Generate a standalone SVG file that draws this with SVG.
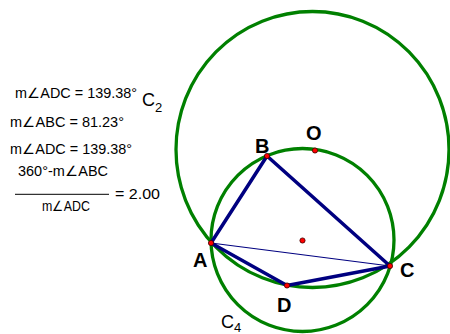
<svg xmlns="http://www.w3.org/2000/svg" width="450" height="334" viewBox="0 0 450 334">
<style>
.circ{fill:none;stroke:#008000;stroke-width:3.3}
.quad{fill:none;stroke:#000080;stroke-width:3.5;stroke-linejoin:round}
.diag{stroke:#000080;stroke-width:1.2}
.pt{fill:#ff0000;stroke:#400000;stroke-width:0.8}
.m{font-family:"Liberation Sans",Arial,sans-serif;font-size:14px;fill:#000}
.lbl{font-family:"Liberation Sans",Arial,sans-serif;font-size:20px;font-weight:bold;fill:#000}
.cl{font-family:"Liberation Sans",Arial,sans-serif;font-size:18px;fill:#000}
.sub{font-size:13px}
</style>
<rect width="450" height="334" fill="#fff"/>
<g id="circleC2"><ellipse class="circ" cx="312.5" cy="149.5" rx="136.5" ry="138"/></g>
<g id="circleC4"><circle class="circ" cx="302.5" cy="240" r="91.5"/></g>
<g id="connectors">
<polygon class="quad" points="211,243 267,156 390,266 287,285.5"/>
<line class="diag" x1="211" y1="243" x2="390" y2="266"/>
</g>
<g id="A"><circle class="pt" cx="211" cy="243" r="2.6"/><text class="lbl" x="193" y="267">A</text></g>
<g id="B"><circle class="pt" cx="267" cy="156" r="2.6"/><text class="lbl" x="255" y="153">B</text></g>
<g id="C"><circle class="pt" cx="390" cy="266" r="2.6"/><text class="lbl" x="400" y="277">C</text></g>
<g id="D"><circle class="pt" cx="287" cy="285.5" r="2.6"/><text class="lbl" x="277" y="312">D</text></g>
<g id="O"><circle class="pt" cx="315" cy="150.5" r="2.6"/><text class="lbl" x="306" y="140">O</text></g>
<g id="center"><circle class="pt" cx="302.5" cy="240.5" r="2.6"/></g>
<g id="labelC2"><text class="cl" x="142" y="106">C<tspan class="sub" dy="5.5">2</tspan></text></g>
<g id="labelC4"><text class="cl" x="221" y="328">C<tspan class="sub" dy="4">4</tspan></text></g>
<g id="measures">
<text class="m" x="15" y="98" textLength="122" lengthAdjust="spacingAndGlyphs">m∠ADC = 139.38°</text>
<text class="m" x="10" y="126.5" textLength="114" lengthAdjust="spacingAndGlyphs">m∠ABC = 81.23°</text>
<text class="m" x="10" y="154" textLength="122" lengthAdjust="spacingAndGlyphs">m∠ADC = 139.38°</text>
<text class="m" x="18" y="176" textLength="90" lengthAdjust="spacingAndGlyphs">360°-m∠ABC</text>
<line x1="15" y1="194.3" x2="109" y2="194.3" stroke="#000" stroke-width="1"/>
<text class="m" x="42" y="210.5" textLength="48" lengthAdjust="spacingAndGlyphs">m∠ADC</text>
<text class="m" x="115" y="199" textLength="45" lengthAdjust="spacingAndGlyphs">= 2.00</text>
</g>
</svg>
